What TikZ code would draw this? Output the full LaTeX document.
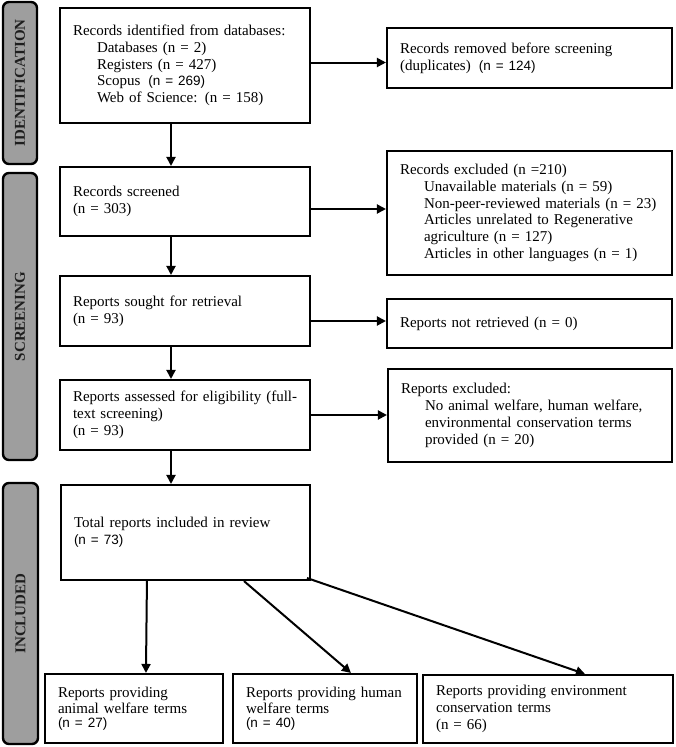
\documentclass[tikz,border=0pt]{standalone}
\usepackage{fontspec}
\setmainfont{Liberation Serif}
\setsansfont{Liberation Sans}
\usetikzlibrary{arrows.meta,calc}
\definecolor{sidegray}{RGB}{158,158,158}
\definecolor{sidetext}{RGB}{30,30,30}
\newcommand\sn[1]{{\sffamily\fontsize{13.5}{16.8}\selectfont #1}}
\newcommand\ind{\hspace*{24pt}}
\begin{document}
\begin{tikzpicture}[x=1pt,y=-1pt,
  box/.style={draw=black, line width=2.1pt, rectangle, inner xsep=13pt, inner ysep=2pt, align=left, font=\fontsize{15}{16.8}\selectfont},
  side/.style={draw=black, line width=2.4pt, fill=sidegray, rounded corners=6pt, rotate=90, inner sep=0pt, font=\fontsize{15}{16}\selectfont\bfseries, text=sidetext},
  arr/.style={line width=2pt, -{Triangle[length=9pt,width=9pt]}}]
\useasboundingbox (0,0) rectangle (676,747);

% phase side bars
\node[side, minimum width=162pt, minimum height=34pt] (sid1) at (20,83) {IDENTIFICATION};
\node[side, minimum width=287pt, minimum height=34pt] (sid2) at (20,316.5) {SCREENING};
\node[side, minimum width=261pt, minimum height=35pt] (sid3) at (20.5,613.5) {INCLUDED};

% left column
\node[box, text width=224pt, minimum height=115pt] (ident) at (185,65.5)
 {Records identified from databases:\\ \ind Databases (n = 2)\\ \ind Registers (n = 427)\\ \ind Scopus\hspace{8pt}\sn{(n = 269)}\\ \ind Web of Science: (n = 158)};
\node[box, text width=224pt, minimum height=69pt] (screened) at (185,201.5)
 {Records screened\\ (n = 303)};
\node[box, text width=224pt, minimum height=70pt] (sought) at (185,311)
 {Reports sought for retrieval\\ (n = 93)};
\node[box, text width=224pt, minimum height=70pt] (assessed) at (185,415)
 {\mbox{Reports assessed for eligibility (full-}\\ text screening)\\ (n = 93)};
\node[box, text width=223pt, minimum height=95pt] (total) at (185.5,532.5)
 {Total reports included in review\\ \sn{(n = 73)}};

% right column
\node[box, text width=259pt, minimum height=60pt] (removed) at (529.5,58)
 {Records removed before screening\\ (duplicates)\hspace{8pt}\sn{(n = 124)}};
\node[box, text width=259pt, minimum height=124pt] (excluded) at (529.5,213)
 {Records excluded (n =210)\\ \ind Unavailable materials (n = 59)\\ \ind \mbox{Non-peer-reviewed materials (n = 23)}\\ \ind Articles unrelated to Regenerative\\ \ind agriculture (n = 127)\\ \ind Articles in other languages (n = 1)};
\node[box, text width=259pt, minimum height=49pt] (notret) at (529.5,323.5)
 {Reports not retrieved (n = 0)};
\node[box, text width=258pt, minimum height=93pt] (repexcl) at (530,415.5)
 {Reports excluded:\\ \ind No animal welfare, human welfare,\\ \ind environmental conservation terms\\ \ind provided (n = 20)};

% bottom row
\node[box, text width=152pt, minimum height=69pt] (aw) at (134,708.5)
 {Reports providing\\ animal welfare terms\\[-3pt] \sn{(n = 27)}};
\node[box, text width=158pt, minimum height=69pt] (hw) at (325,708.5)
 {\mbox{Reports providing human}\\ welfare terms\\[-3pt] \sn{(n = 40)}};
\node[box, text width=224pt, minimum height=68pt] (ec) at (548,709)
 {\mbox{Reports providing environment}\\ conservation terms\\ (n = 66)};

% vertical flow
\coordinate (ax) at (171,0);
\draw[arr] (ident.south -| ax) -- (screened.north -| ax);
\draw[arr] (screened.south -| ax) -- (sought.north -| ax);
\draw[arr] (sought.south -| ax) -- (assessed.north -| ax);
\draw[arr] (assessed.south -| ax) -- (total.north -| ax);

% side flow
\coordinate (h1) at ([yshift=3pt]ident.east);
\draw[arr] (h1) -- (h1 -| removed.west);
\coordinate (h2) at ([yshift=-7.5pt]screened.east);
\draw[arr] (h2) -- (h2 -| excluded.west);
\coordinate (h3) at ([yshift=-10pt]sought.east);
\draw[arr] (h3) -- (h3 -| notret.west);
\draw[arr] (assessed.east) -- (assessed.east -| repexcl.west);

% included branches
\draw[arr] ($(total.south west)+(87,0)$) -- ($(aw.north west)+(102,0)$);
\draw[arr] ($(total.south west)+(184,0)$) -- ($(hw.north west)+(119,0)$);
\draw[arr] ($(total.south east)+(-4,-3)$) -- ($(ec.north west)+(163,0)$);
\end{tikzpicture}
\end{document}
